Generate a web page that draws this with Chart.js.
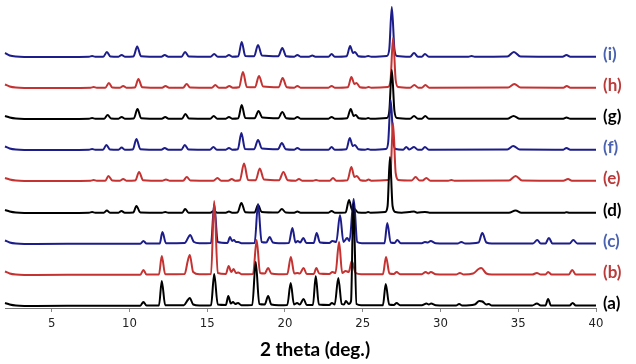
<!DOCTYPE html>
<html>
<head>
<meta charset="utf-8">
<script src="https://cdn.jsdelivr.net/npm/chart.js@4.4.0/dist/chart.umd.min.js"></script>
<style>
  html, body { margin: 0; padding: 0; background: #fff; }
  #wrap { width: 636px; height: 364px; position: relative; }
</style>
</head>
<body>
<div id="wrap"><canvas id="xrd"></canvas></div>
<script>
// ============================================
// DATA  (2 theta in deg., intensity above each trace's baseline)
// ============================================
const tickValues = [5, 10, 15, 20, 25, 30, 35, 40];
const traceNames = ['(a)', '(b)', '(c)', '(d)', '(e)', '(f)', '(g)', '(h)', '(i)'];
const traceOffsets = [2, 33, 64, 95, 127, 158, 189, 220, 251];

const traceA = [
  [2.0,3],[2.3,1.5],[2.7,0.5],[4,0],[8,0.3],[10.7,0.3],[10.9,4],[11.1,0.5],[11.9,0.5],[12.08,25],[12.3,0.8],
  [13.5,0.8],[13.75,6],[13.88,8],[14.1,1.5],[14.5,0.5],[15.25,0.8],[15.45,32],[15.68,1.5],[16.2,1],[16.36,10],
  [16.52,2.5],[16.66,4],[16.8,2],[16.98,3],[17.2,0.8],[17.9,1],[18.12,44],[18.35,2],[18.7,1.5],[18.92,10],
  [19.12,1.5],[19.6,0.8],[20.15,1],[20.37,23],[20.58,1.5],[20.78,3],[20.95,1.5],[21.2,7],[21.4,1],[21.8,1],
  [21.98,30],[22.18,1.5],[22.85,1],[23.02,3],[23.2,1.5],[23.43,28],[23.65,2],[23.8,1.5],[23.92,5],[24.1,2],
  [24.25,5],[24.4,103],[24.6,2],[24.9,0.8],[26.3,0.8],[26.48,22],[26.7,1.5],[27.0,1],[27.18,3],[27.4,0.8],
  [28.8,0.8],[29.1,2.5],[29.25,1.5],[29.4,2.5],[29.7,0.8],[31.0,0.5],[31.2,2],[31.4,0.5],[32.2,1.5],[32.5,5],
  [32.7,4.5],[32.95,1.5],[33.1,2],[33.3,0.5],[35.9,0.5],[36.2,2.5],[36.45,0.5],[36.75,0.5],[36.92,7],[37.1,0.5],
  [38.3,0.5],[38.5,3],[38.7,0.5],[40,0.5]
];
const traceB = [
  [2.0,3.5],[2.3,1.5],[2.7,0.5],[4,0],[8,0.3],[10.7,0.3],[10.9,5],[11.1,0.5],[11.9,0.5],[12.08,19],[12.3,0.8],
  [13.55,1],[13.75,14],[13.88,20],[14.1,3],[14.5,0.8],[15.25,1],[15.45,74],[15.68,2],[16.2,1],[16.38,9],
  [16.55,3],[16.7,6],[16.85,2],[17.0,2.5],[17.2,0.8],[17.95,1],[18.18,35],[18.4,2],[18.7,1.5],[18.92,7],
  [19.12,1.5],[19.6,0.8],[20.15,1],[20.38,18],[20.6,1.5],[20.8,2],[20.95,1.5],[21.2,7],[21.4,1],[21.85,1],
  [22.02,7],[22.2,1.5],[22.85,1],[23.05,3],[23.25,2],[23.48,33],[23.68,2],[23.9,4],[24.1,3],[24.3,14],
  [24.55,2],[24.9,0.8],[26.3,0.8],[26.5,18],[26.72,1.5],[27.0,1],[27.18,3],[27.4,0.8],[28.8,0.8],[29.05,3],
  [29.22,1.5],[29.38,3],[29.7,0.8],[31.0,0.5],[31.25,2],[31.5,0.5],[32.1,1.5],[32.45,6],[32.62,7],[32.95,1.5],
  [33.3,0.5],[35.9,0.5],[36.2,2],[36.45,0.5],[36.75,0.5],[36.92,3],[37.15,0.5],[38.25,0.5],[38.47,5],[38.7,0.5],
  [40,0.5]
];
const traceC = [
  [2.0,3.5],[2.3,1.5],[2.7,0.5],[4,0],[8,0.3],[10.7,0.3],[10.9,3],[11.1,0.5],[11.95,0.5],[12.12,12],[12.35,0.8],
  [13.55,1],[13.8,7],[13.9,9],[14.15,2],[14.5,0.8],[15.25,1],[15.45,40],[15.68,2],[16.3,1],[16.47,7],[16.6,3],
  [16.72,4],[16.85,2],[17.0,2],[17.2,0.8],[18.05,1],[18.27,40],[18.5,2],[18.8,1.5],[19.02,7],[19.22,1.5],
  [19.6,0.8],[20.25,1],[20.48,16],[20.68,1.5],[20.82,3],[20.98,1.5],[21.18,6],[21.38,1],[21.85,1],[22.04,11],
  [22.25,1.5],[22.85,1],[23.05,3],[23.3,2],[23.54,29],[23.76,2],[24.0,6],[24.15,3],[24.42,45],[24.65,2],
  [24.95,0.8],[26.4,0.8],[26.58,21],[26.8,1.5],[27.05,1],[27.22,4],[27.45,0.8],[28.8,0.8],[29.0,2],[29.18,1.5],
  [29.37,3],[29.7,0.8],[31.1,0.5],[31.34,2],[31.6,0.5],[32.45,1.5],[32.69,11],[32.95,1.5],[33.3,0.5],[35.95,0.5],
  [36.22,4],[36.45,0.5],[36.75,0.5],[36.97,6],[37.2,0.5],[38.3,0.5],[38.54,4],[38.8,0.5],[40,0.5]
];
const traceD = [
  [2.0,3],[2.3,1.5],[2.7,0.5],[4,0],[7.4,0.3],[7.6,1],[7.8,0.3],[8.35,0.3],[8.55,2.5],[8.75,0.3],[9.3,0.3],
  [9.49,2],[9.7,0.3],[10.25,0.5],[10.45,7],[10.7,0.5],[12.1,0.3],[12.3,1],[12.5,0.3],[13.4,0.3],[13.58,4],
  [13.8,0.3],[15.2,0.3],[15.42,2],[15.65,0.3],[16.2,0.3],[16.4,1.5],[16.6,0.3],[16.95,0.5],[17.2,10],[17.45,0.8],
  [18.05,0.5],[18.27,8],[18.5,1],[19.55,0.5],[19.8,4],[20.05,0.5],[20.6,0.3],[20.8,1.5],[21.0,0.3],[22.8,0.3],
  [23.0,2],[23.2,0.3],[23.9,0.5],[24.12,13],[24.32,3],[24.47,4],[24.7,0.5],[25.2,0.3],[25.35,1],[25.5,0.3],
  [26.45,1],[26.6,7],[26.75,56],[26.92,7],[27.1,1],[27.5,0.3],[28.0,1],[28.3,1.5],[28.5,0.3],[29.0,1],[29.3,0.3],
  [34.4,0.3],[34.83,2.5],[35.2,0.3],[38.0,0.3],[38.1,0.8],[38.3,0.3],[40,0.3]
];
const traceE = [
  [2.0,3],[2.3,1.5],[2.7,0.5],[4,0],[7.5,0.3],[7.7,1],[7.9,0.3],[8.45,0.3],[8.65,5],[8.9,0.5],[9.4,0.3],
  [9.6,2],[9.8,0.3],[10.38,0.5],[10.62,9],[10.88,0.8],[12.1,0.3],[12.35,1.5],[12.6,0.3],[13.45,0.3],[13.69,4],
  [13.92,0.5],[15.4,0.3],[15.66,3],[15.9,0.3],[16.35,0.3],[16.58,2],[16.8,0.3],[17.1,0.8],[17.37,17.5],
  [17.63,1],[18.12,0.8],[18.38,12.5],[18.65,1.5],[19.62,0.8],[19.9,9],[20.18,0.8],[20.7,0.3],[20.9,2],[21.1,0.3],
  [21.8,0.3],[22.0,1],[22.2,0.3],[22.88,0.3],[23.09,3],[23.3,0.3],[24.02,0.8],[24.27,14],[24.47,4],[24.62,5],
  [24.85,0.8],[25.2,0.3],[25.38,1.5],[25.55,0.3],[26.62,1],[26.79,8],[26.95,58],[27.12,8],[27.3,1],[28.15,0.5],
  [28.4,4],[28.65,0.5],[28.85,0.5],[29.09,3],[29.35,0.3],[30.5,0.3],[30.7,1],[30.9,0.3],[34.4,0.5],[34.83,5],
  [35.25,0.5],[37.9,0.3],[38.2,2],[38.45,0.3],[40,0.3]
];
const traceF = [
  [2.0,3.5],[2.3,1.5],[2.7,0.5],[4,0],[7.4,0.3],[7.6,1],[7.8,0.3],[8.3,0.3],[8.52,5],[8.75,0.5],[9.3,0.3],
  [9.5,2.5],[9.7,0.3],[10.22,0.5],[10.45,11],[10.7,0.8],[12.05,0.3],[12.27,2],[12.5,0.3],[13.34,0.3],[13.56,5],
  [13.8,0.5],[15.18,0.3],[15.4,3],[15.62,0.3],[16.2,0.3],[16.4,2],[16.6,0.3],[16.97,0.8],[17.2,17],[17.43,1],
  [18.02,0.8],[18.27,10],[18.52,1.5],[19.55,0.8],[19.8,7],[20.05,0.8],[20.6,0.3],[20.8,2],[21.0,0.3],[22.8,0.3],
  [23.0,3],[23.2,0.3],[23.95,0.8],[24.17,12],[24.36,4],[24.5,5],[24.72,0.8],[25.15,0.3],[25.33,1],[25.5,0.3],
  [26.5,1],[26.64,8],[26.8,50],[26.97,8],[27.12,1],[27.6,0.3],[27.8,3],[28.0,0.5],[28.3,3],[28.55,0.3],[28.8,0.3],
  [29.0,3],[29.25,0.3],[34.3,0.5],[34.68,4],[35.1,0.5],[37.9,0.3],[38.1,2],[38.35,0.3],[40,0.3]
];
const traceG = [
  [2.0,3],[2.3,1.5],[2.7,0.5],[4,0],[7.4,0.3],[7.6,1],[7.8,0.3],[8.38,0.3],[8.6,4],[8.82,0.5],[9.3,0.3],
  [9.5,2],[9.7,0.3],[10.28,0.5],[10.52,10],[10.75,0.8],[12.08,0.3],[12.3,2],[12.52,0.3],[13.38,0.3],[13.6,5],
  [13.83,0.5],[15.2,0.3],[15.42,3],[15.65,0.3],[16.2,0.3],[16.4,2],[16.6,0.3],[17.0,0.8],[17.22,14],[17.45,1],
  [18.05,0.8],[18.3,8],[18.55,1.5],[19.57,0.8],[19.83,7],[20.08,0.8],[20.6,0.3],[20.8,2],[21.0,0.3],[22.8,0.3],
  [23.0,2],[23.2,0.3],[24.0,0.8],[24.23,10],[24.42,3],[24.55,4],[24.75,0.8],[25.2,0.3],[25.35,1],[25.5,0.3],
  [26.55,1],[26.71,8],[26.87,49],[27.04,8],[27.2,1],[28.05,0.3],[28.3,3],[28.55,0.3],[28.8,0.3],[29.02,3],
  [29.25,0.3],[34.3,0.3],[34.7,3],[35.1,0.3],[37.9,0.3],[38.1,1.5],[38.35,0.3],[40,0.3]
];
const traceH = [
  [2.0,3.5],[2.3,1.5],[2.7,0.5],[4,0],[7.5,0.3],[7.7,1],[7.9,0.3],[8.45,0.3],[8.68,5],[8.9,0.5],[9.4,0.3],
  [9.6,2],[9.8,0.3],[10.35,0.5],[10.58,9],[10.82,0.8],[12.1,0.3],[12.32,2],[12.55,0.3],[13.45,0.3],[13.68,4],
  [13.9,0.5],[15.3,0.3],[15.52,3],[15.75,0.3],[16.2,0.3],[16.42,2],[16.65,0.3],[17.05,0.8],[17.3,16],[17.55,1],
  [18.08,0.8],[18.33,12],[18.6,1.5],[19.6,0.8],[19.85,10],[20.12,0.8],[20.6,0.3],[20.8,2],[21.0,0.3],[22.8,0.3],
  [23.0,2],[23.2,0.3],[24.05,0.8],[24.27,11],[24.47,4],[24.6,5],[24.82,0.8],[25.2,0.3],[25.38,1],[25.55,0.3],
  [26.62,1],[26.79,8],[26.95,50],[27.12,8],[27.28,1],[28.05,0.3],[28.32,3],[28.58,0.3],[28.8,0.3],[29.03,3],
  [29.28,0.3],[34.35,0.5],[34.75,4],[35.15,0.5],[37.9,0.3],[38.12,2],[38.35,0.3],[40,0.3]
];
const traceI = [
  [2.0,4],[2.3,1.5],[2.7,0.5],[4,0],[7.4,0.3],[7.6,1],[7.8,0.3],[8.32,0.3],[8.55,5],[8.78,0.5],[9.3,0.3],
  [9.5,2],[9.7,0.3],[10.26,0.5],[10.5,10.5],[10.74,0.8],[12.05,0.3],[12.27,2],[12.5,0.3],[13.35,0.3],[13.58,5],
  [13.82,0.5],[15.22,0.3],[15.45,3],[15.68,0.3],[16.2,0.3],[16.4,2],[16.6,0.3],[17.0,0.8],[17.22,15],[17.45,1],
  [18.02,0.8],[18.27,12],[18.52,1.5],[19.57,0.8],[19.83,9],[20.08,0.8],[20.6,0.3],[20.8,2],[21.0,0.3],[21.55,0.3],
  [21.76,1.5],[21.95,0.3],[22.8,0.3],[23.0,3],[23.2,0.3],[23.97,0.8],[24.19,11],[24.38,4],[24.5,5],[24.72,0.8],
  [25.15,0.3],[25.35,1],[25.55,0.3],[26.55,1],[26.71,8],[26.87,50],[27.04,8],[27.2,1],[28.05,0.3],[28.3,4],
  [28.55,0.3],[28.8,0.3],[29.0,3],[29.25,0.3],[31.8,0.3],[32.0,1],[32.2,0.3],[34.3,0.5],[34.72,5],[35.15,0.5],
  [37.85,0.3],[38.1,2],[38.35,0.3],[40,0.3]
];

const traces = [traceA, traceB, traceC, traceD, traceE, traceF, traceG, traceH, traceI];

// line / label colours: black, red, blue repeating
const lineColors = ['#000000', '#c43232', '#1c1c8a', '#000000', '#c43232', '#1c1c8a', '#000000', '#c43232', '#1c1c8a'];
const labelColors = ['#000000', '#bb3a3a', '#4a62b0', '#000000', '#bb3a3a', '#4a62b0', '#000000', '#bb3a3a', '#4a62b0'];

// ============================================
// PLUGIN: trace labels + axis title
// ============================================
const labelPlugin = {
  id: 'traceLabels',
  afterDatasetsDraw(chart) {
    const ctx = chart.ctx;
    const area = chart.chartArea;
    const yScale = chart.scales.y;
    ctx.save();
    ctx.font = 'bold 17px Lato, "Open Sans", sans-serif';
    ctx.textAlign = 'left';
    ctx.textBaseline = 'middle';
    traceNames.forEach((name, i) => {
      ctx.fillStyle = labelColors[i];
      ctx.fillText(name, area.right + 7, yScale.getPixelForValue(traceOffsets[i]) - 2);
    });
    ctx.fillStyle = '#000';
    ctx.textAlign = 'center';
    ctx.font = 'bold 19px Lato, "Open Sans", sans-serif';
    ctx.fillText('2 theta (deg.)', 315, 350);
    ctx.restore();
  }
};

// ============================================
// CHART
// ============================================
function initChart() {
  const datasets = traces.map((trace, i) => ({
    label: traceNames[i],
    data: trace.map(p => ({ x: p[0], y: p[1] + traceOffsets[i] })),
    borderColor: lineColors[i],
    borderWidth: 2,
    pointRadius: 0,
    cubicInterpolationMode: 'monotone',
    fill: false,
    clip: false
  }));

  new Chart(document.getElementById('xrd'), {
    type: 'line',
    data: { datasets },
    options: {
      responsive: true,
      maintainAspectRatio: false,
      animation: false,
      layout: { padding: { left: 5, right: 40, top: 5, bottom: 0 } },
      plugins: {
        legend: { display: false },
        tooltip: { enabled: false }
      },
      scales: {
        x: {
          type: 'linear',
          min: 2,
          max: 40,
          afterBuildTicks: scale => {
            scale.ticks = tickValues.map(v => ({ value: v }));
          },
          afterFit: scale => { scale.height = 56; },
          grid: {
            drawOnChartArea: false,
            drawTicks: true,
            tickLength: 4,
            color: '#888'
          },
          border: { display: true, color: '#777', width: 1 },
          ticks: {
            autoSkip: false,
            maxRotation: 0,
            padding: 4,
            color: '#222',
            font: { family: '"Liberation Sans Narrow", "DejaVu Sans Condensed", Arial, sans-serif', size: 13 }
          }
        },
        y: {
          display: false,
          min: 0,
          max: 303
        }
      }
    },
    plugins: [labelPlugin]
  });
}

initChart();
</script>
</body>
</html>
